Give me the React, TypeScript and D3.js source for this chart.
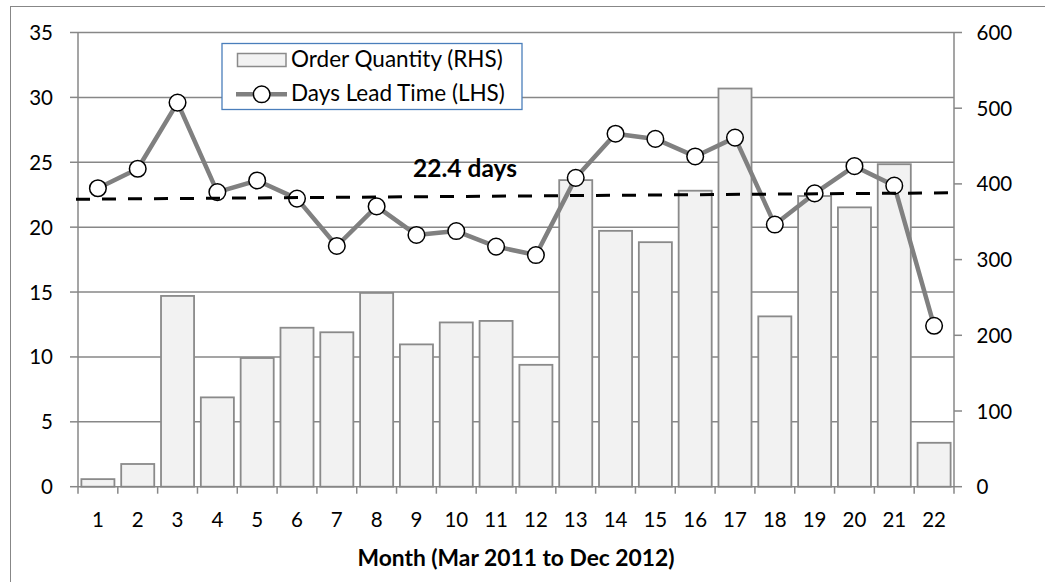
import React, { useRef, useEffect } from 'react';
import * as d3 from 'd3';

// months 1..22 (Mar 2011 to Dec 2012)
const months: number[] = d3.range(1, 23);
// order quantity, right hand scale
const orderQty: number[] = [10, 30, 252, 118, 170, 210, 204, 256, 188, 217, 219, 161, 405, 338, 323, 391, 526, 225, 384, 369, 426, 58];
// days lead time, left hand scale
const leadDays: number[] = [23.0, 24.5, 29.6, 22.7, 23.6, 22.2, 18.55, 21.6, 19.4, 19.7, 18.5, 17.85, 23.8, 27.2, 26.8, 25.45, 26.9, 20.2, 22.6, 24.7, 23.2, 12.4];
// dashed average line (start, end) on the left scale
const avgLine: number[] = [22.15, 22.65];
const avgLabel = '22.4 days';
const leftTicks: number[] = [0, 5, 10, 15, 20, 25, 30, 35];
const rightTicks: number[] = [0, 100, 200, 300, 400, 500, 600];
const legendLabels = ['Order Quantity (RHS)', 'Days Lead Time (LHS)'];
const xTitle = 'Month (Mar 2011 to Dec 2012)';

const FONT = 'Lato, Carlito, Calibri, sans-serif';
const GRID = '#878787';

const Chart = () => {
  const ref = useRef<SVGSVGElement>(null);

  useEffect(() => {
    if (!ref.current) return;
    const W = 1045, H = 582;
    const left = 78, right = 954, top = 32.5, bottom = 486.7;

    const svg = d3.select(ref.current);
    svg.selectAll('*').remove();
    svg.attr('width', W).attr('height', H);

    // outer chart border (runs off the picture right and bottom)
    svg.append('rect')
      .attr('x', 10.5).attr('y', 6.5)
      .attr('width', 1200).attr('height', 800)
      .attr('fill', 'white').attr('stroke', GRID).attr('stroke-width', 1);

    const x = d3.scaleBand<number>()
      .domain(months)
      .range([left, right])
      .paddingInner(0.17)
      .paddingOuter(0.085);
    const step = (right - left) / months.length;
    const xc = (m: number) => (x(m) as number) + x.bandwidth() / 2;

    const yL = d3.scaleLinear().domain([0, 35]).range([bottom, top]);
    const yR = d3.scaleLinear().domain([0, 600]).range([bottom, top]);

    // gridlines
    svg.append('g').selectAll('line')
      .data(leftTicks.filter(d => d > 0))
      .enter().append('line')
      .attr('x1', left).attr('x2', right)
      .attr('y1', d => yL(d)).attr('y2', d => yL(d))
      .attr('stroke', GRID).attr('stroke-width', 1.5);

    // bars
    svg.append('g').selectAll('rect')
      .data(orderQty)
      .enter().append('rect')
      .attr('x', (d, i) => x(months[i]) as number)
      .attr('y', d => yR(d))
      .attr('width', x.bandwidth())
      .attr('height', d => yR(0) - yR(d))
      .attr('fill', '#f2f2f2')
      .attr('stroke', '#8a8a8a')
      .attr('stroke-width', 1.8);

    // axes lines
    const axes = svg.append('g').attr('stroke', GRID).attr('stroke-width', 1.5);
    axes.append('line').attr('x1', left).attr('x2', left).attr('y1', top).attr('y2', bottom);
    axes.append('line').attr('x1', right).attr('x2', right).attr('y1', top).attr('y2', bottom);
    axes.append('line').attr('x1', left).attr('x2', right).attr('y1', bottom).attr('y2', bottom);
    axes.selectAll('line.lt').data(leftTicks).enter().append('line')
      .attr('class', 'lt')
      .attr('x1', left - 8).attr('x2', left).attr('y1', d => yL(d)).attr('y2', d => yL(d));
    axes.selectAll('line.rt').data(rightTicks).enter().append('line')
      .attr('class', 'rt')
      .attr('x1', right).attr('x2', right + 8).attr('y1', d => yR(d)).attr('y2', d => yR(d));
    axes.selectAll('line.xt').data(d3.range(0, months.length + 1)).enter().append('line')
      .attr('class', 'xt')
      .attr('x1', d => left + d * step).attr('x2', d => left + d * step)
      .attr('y1', bottom).attr('y2', bottom + 7);

    // tick labels
    svg.append('g').selectAll('text')
      .data(leftTicks).enter().append('text')
      .attr('x', 53).attr('y', d => yL(d) + 7.5)
      .attr('text-anchor', 'end')
      .attr('font-family', FONT).attr('font-size', 20.5).attr('fill', '#000')
      .text(d => d);
    svg.append('g').selectAll('text')
      .data(rightTicks).enter().append('text')
      .attr('x', 976.5).attr('y', d => yR(d) + 7.5)
      .attr('font-family', FONT).attr('font-size', 20.5).attr('fill', '#000')
      .text(d => d);
    svg.append('g').selectAll('text')
      .data(months).enter().append('text')
      .attr('x', d => xc(d)).attr('y', 526.5)
      .attr('text-anchor', 'middle')
      .attr('font-family', FONT).attr('font-size', 20.5).attr('fill', '#000')
      .text(d => d);

    svg.append('text')
      .attr('x', (left + right) / 2).attr('y', 565.5)
      .attr('text-anchor', 'middle')
      .attr('font-family', FONT).attr('font-size', 22.8).attr('font-weight', 'bold')
      .text(xTitle);

    // lead time line + markers
    const line = d3.line<number>()
      .x((d, i) => xc(months[i]))
      .y(d => yL(d));
    svg.append('path')
      .datum(leadDays)
      .attr('d', line)
      .attr('fill', 'none')
      .attr('stroke', '#808080')
      .attr('stroke-width', 4.5)
      .attr('stroke-linejoin', 'round');
    svg.append('g').selectAll('circle')
      .data(leadDays).enter().append('circle')
      .attr('cx', (d, i) => xc(months[i]))
      .attr('cy', d => yL(d))
      .attr('r', 8.3)
      .attr('fill', 'white')
      .attr('stroke', '#000')
      .attr('stroke-width', 1.5);

    // dashed average line
    svg.append('line')
      .attr('x1', left - 2).attr('x2', right + 4)
      .attr('y1', yL(avgLine[0])).attr('y2', yL(avgLine[1]))
      .attr('stroke', '#000')
      .attr('stroke-width', 3)
      .attr('stroke-dasharray', '14 12');
    svg.append('text')
      .attr('x', 465).attr('y', 176.5)
      .attr('text-anchor', 'middle')
      .attr('font-family', FONT).attr('font-size', 24.5).attr('font-weight', 'bold')
      .text(avgLabel);

    // legend
    const lg = svg.append('g');
    lg.append('rect')
      .attr('x', 222).attr('y', 43.5).attr('width', 300).attr('height', 66)
      .attr('fill', 'white').attr('stroke', '#4a7ebb').attr('stroke-width', 1.3);
    lg.append('rect')
      .attr('x', 237.5).attr('y', 53.5).attr('width', 48.5).attr('height', 13)
      .attr('fill', '#f2f2f2').attr('stroke', '#8a8a8a').attr('stroke-width', 1.5);
    lg.append('line')
      .attr('x1', 236).attr('x2', 287).attr('y1', 94.3).attr('y2', 94.3)
      .attr('stroke', '#808080').attr('stroke-width', 4.5);
    lg.append('circle')
      .attr('cx', 261.7).attr('cy', 94.3).attr('r', 8.3)
      .attr('fill', 'white').attr('stroke', '#000').attr('stroke-width', 1.5);
    lg.selectAll('text.lg').data(legendLabels).enter().append('text')
      .attr('class', 'lg')
      .attr('x', 291).attr('y', (d, i) => 67 + i * 33.5)
      .attr('font-family', FONT).attr('font-size', 22.5).attr('fill', '#000')
      .text(d => d);
  }, []);

  return <svg ref={ref} style={{ position: 'absolute', left: 0, top: 0 }} />;
};

export default function App() {
  return <Chart />;
}
